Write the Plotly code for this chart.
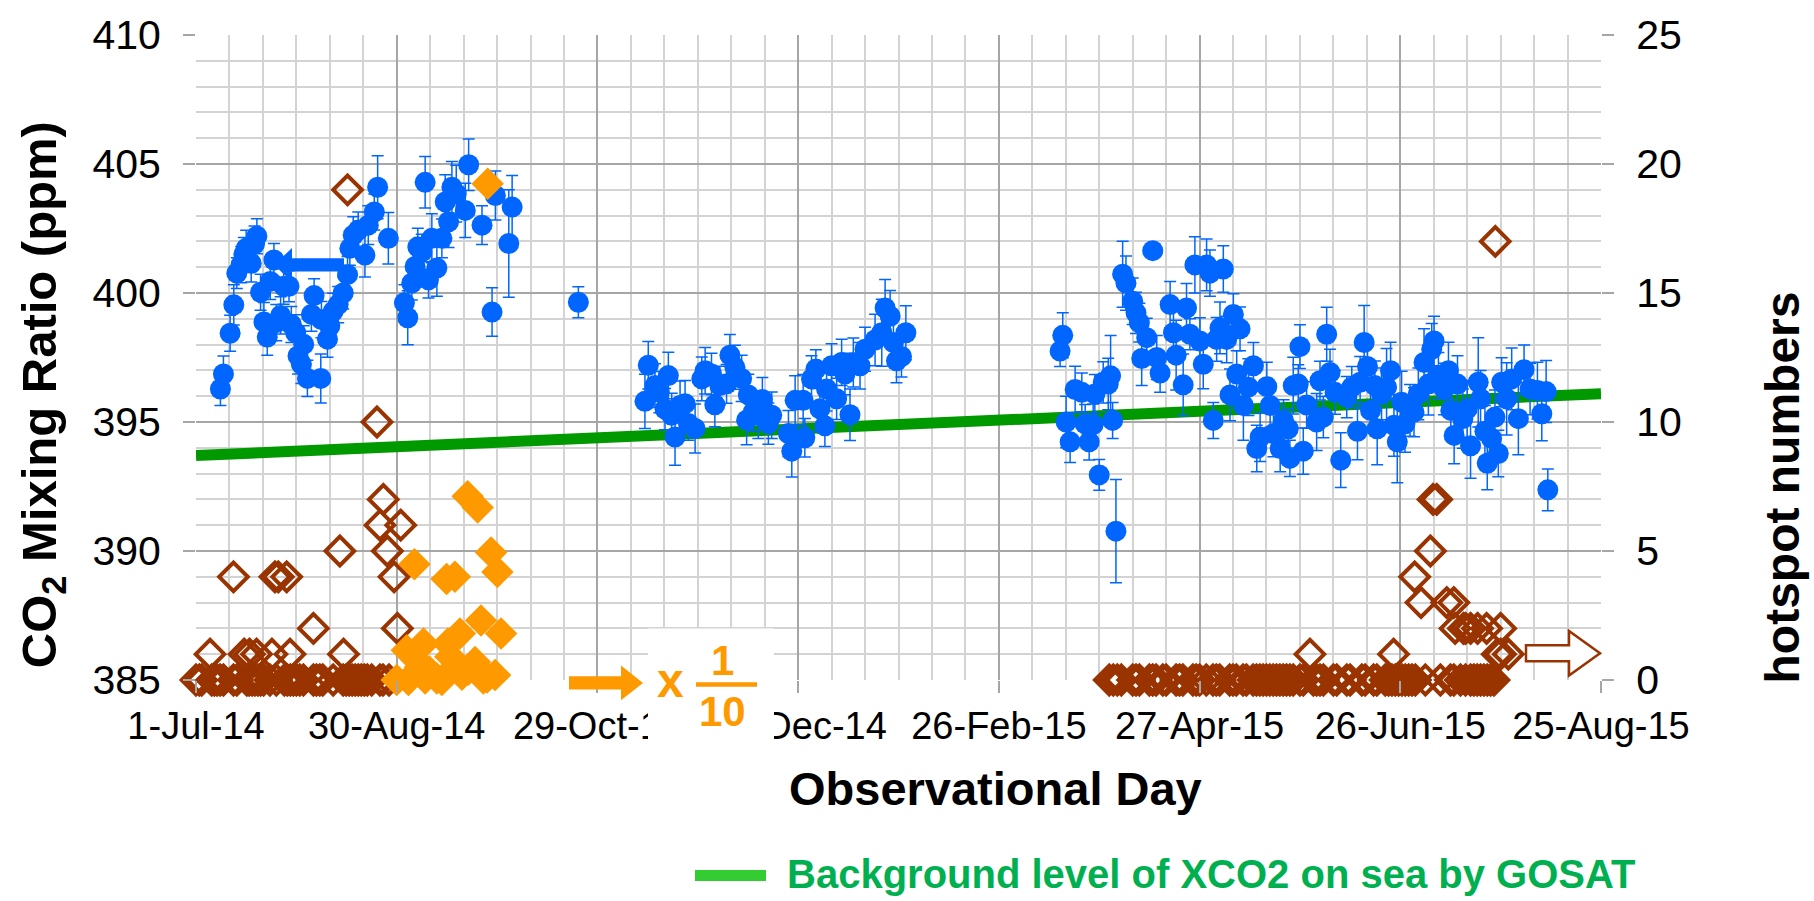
import pandas as pd
import plotly.graph_objects as go

# ---------------- data ----------------
BASE_DATE = "2014-07-01"

# blue CO2 observations: day offset from 1-Jul-14, mixing ratio (ppm), error (ppm)
co2_day = [
    7.3, 8.2, 10.2, 11.3, 12.2, 13.5, 14.3, 15.0, 16.5, 17.5, 18.2, 19.3, 20.3, 21.3, 22.2, 23.3,
    24.0, 25.3, 26.2, 27.8, 28.5, 29.8, 30.5, 31.5, 32.2, 33.3, 34.5, 35.3, 37.3, 37.5, 39.3, 40.0,
    41.0, 42.5, 44.0, 45.3, 46.0, 47.0, 48.5, 50.5, 51.5, 53.3, 54.3, 57.5, 62.3, 63.3, 64.5, 65.5,
    66.3, 67.5, 68.5, 69.5, 70.5, 72.0, 73.5, 74.5, 75.5, 76.5, 77.8, 80.5, 81.5, 85.5, 88.5, 89.5,
    93.5, 94.5, 114.3,
    134.2, 135.2, 137.2, 138.5, 140.2, 141.2, 142.2, 143.2, 144.7, 146.2, 147.2, 149.2, 151.2, 152.2,
    154.1, 155.1, 156.6, 158.6, 159.6, 161.1, 163.1, 164.6, 165.1, 166.6, 168.1, 169.3, 171.1, 172.1,
    177.1, 178.1, 179.1, 181.5, 182.0, 184.0, 185.3, 186.5, 188.0, 188.5, 190.0, 191.5, 193.0, 194.0,
    195.5, 196.5, 198.5, 200.0, 203.0, 205.0, 206.0, 207.5, 208.5, 209.4, 210.9, 212.2,
    258.3, 259.1, 260.1, 261.3, 262.8, 264.8, 265.8, 267.0, 268.2, 268.7, 270.0, 271.2, 272.7, 273.4,
    274.0, 275.0, 277.0, 278.0, 280.0, 281.0, 282.0, 282.7, 284.2, 286.0, 287.2, 288.2, 291.2, 292.2,
    293.0, 295.1, 296.1, 297.1, 298.6, 300.1, 301.1, 302.1, 303.1, 304.1, 305.1, 306.1, 307.1, 308.1,
    309.1, 310.1, 311.1, 312.1, 313.1, 314.6, 316.1, 317.1, 318.1, 320.1, 321.1, 322.1, 324.1, 325.1,
    326.5, 327.0, 328.0, 329.5, 330.0, 331.0, 332.0, 335.0, 336.0, 337.0, 338.0, 339.0, 340.5, 342.2,
    344.0, 345.5, 347.2, 348.0, 349.2, 350.2, 351.1, 352.4, 353.1, 354.4, 355.9, 357.1, 358.1, 359.1,
    360.4, 361.4, 362.9, 364.1, 365.4, 367.1, 368.4, 369.4, 370.1, 371.4, 373.1, 374.4, 375.1, 376.1,
    377.1, 378.7, 380.0, 381.0, 383.3, 384.0, 385.3, 386.0, 387.3, 388.3, 389.3, 390.3, 391.8, 393.3,
    395.3, 397.0, 398.8, 401.0, 402.3, 403.6, 404.1,
]
co2_ppm = [
    396.28, 396.86, 398.44, 399.54, 400.77, 401.10, 401.50, 401.73, 401.15, 401.90, 402.20, 400.03, 398.88, 398.29, 400.45, 401.28,
    398.85, 399.13, 400.26, 400.26, 398.78, 398.46, 397.56, 397.24, 398.01, 396.69, 399.17, 399.90, 396.69, 398.97, 398.21, 398.72,
    399.29, 399.55, 400.00, 400.71, 401.73, 402.24, 402.44, 401.47, 402.63, 403.14, 404.10, 402.12, 399.62, 399.04, 400.38, 401.03,
    401.79, 401.60, 404.29, 400.51, 402.12, 400.97, 402.12, 403.53, 402.76, 404.10, 403.85, 403.20, 404.97, 402.63, 399.26, 403.78,
    401.92, 403.33, 399.64,
    395.80, 397.20, 396.41, 396.16, 395.50, 396.80, 395.26, 394.42, 395.64, 395.71, 394.94, 394.75, 396.67, 396.99,
    396.86, 395.67, 396.41, 396.48, 397.59, 397.12, 396.69, 395.07, 396.05, 395.39, 395.26, 395.87, 394.94, 395.26,
    394.55, 393.87, 395.84, 395.84, 394.39, 396.67, 397.05, 395.51, 394.85, 396.28, 397.18, 395.90, 397.31, 396.86,
    395.28, 397.31, 397.18, 397.82, 398.18, 398.46, 399.42, 399.10, 398.08, 397.37, 397.54, 398.46,
    397.75, 398.36, 395.00, 394.23, 396.26, 396.15, 394.93, 394.23, 394.90, 396.09, 392.95, 396.54, 396.47, 396.79,
    395.06, 390.77, 400.73, 400.38, 399.68, 399.23, 398.85, 397.46, 398.27, 401.64, 397.50, 396.90, 399.55, 398.46,
    397.59, 396.44, 399.42, 398.40, 401.09, 398.14, 397.24, 401.09, 400.77, 395.06, 398.20, 398.65, 400.93, 398.20,
    396.05, 399.17, 396.86, 398.61, 395.64, 396.35, 397.18, 393.97, 394.42, 396.37, 395.64, 394.55, 393.97, 395.06,
    394.74, 393.59, 396.41, 396.47, 397.92, 393.87, 395.66, 395.00, 396.60, 395.19, 398.40, 396.92, 396.15, 393.52,
    395.96, 396.35, 394.64, 396.54, 398.08, 397.15, 395.45, 396.41, 394.74, 396.09, 396.35, 396.99, 394.87, 394.23,
    395.77, 394.93, 395.45, 395.38, 396.09, 397.31, 396.47, 397.82, 398.14, 396.79, 396.28, 396.99, 395.45, 394.48,
    396.47, 395.13, 395.51, 394.08, 396.54, 395.90, 394.64, 393.40, 394.36, 395.19, 393.78, 396.54, 395.90, 396.67,
    395.13, 397.03, 396.28, 396.22, 395.32, 396.18, 392.37,
]
co2_err = [
    0.64, 0.70, 0.70, 0.78, 0.60, 0.70, 0.65, 0.70, 0.72, 0.70, 0.68, 0.70, 0.75, 0.70, 0.70, 0.64,
    0.70, 0.72, 0.70, 0.60, 0.70, 0.70, 0.70, 0.75, 0.72, 0.70, 0.65, 0.65, 0.95, 0.70, 0.70, 0.68,
    0.70, 0.70, 0.62, 0.70, 0.65, 0.72, 0.70, 0.85, 0.75, 0.70, 1.22, 1.00, 0.70, 1.05, 0.65, 0.75,
    0.72, 0.68, 1.00, 0.70, 0.95, 1.10, 0.75, 1.05, 1.00, 1.00, 1.10, 1.05, 1.00, 0.75, 0.94, 0.95,
    2.08, 1.22, 0.60,
    1.05, 0.92, 0.85, 0.80, 0.80, 0.90, 0.85, 1.10, 0.95, 0.90, 0.65, 0.95, 0.85, 0.90,
    0.80, 0.85, 0.75, 0.75, 0.80, 0.85, 0.90, 0.95, 0.80, 0.75, 0.90, 0.85, 0.80, 0.90,
    0.90, 1.00, 0.95, 1.00, 0.75, 0.90, 0.75, 0.85, 0.80, 0.85, 0.85, 0.80, 0.90, 0.80,
    1.00, 0.95, 0.90, 0.85, 1.00, 1.30, 1.10, 1.00, 0.90, 0.85, 0.80, 1.05,
    0.60, 0.87, 1.00, 0.80, 0.90, 0.75, 0.75, 0.70, 0.80, 0.75, 0.60, 0.80, 1.00, 1.56,
    0.70, 2.00, 1.28, 1.05, 0.90, 0.80, 0.75, 1.05, 0.75, 0.20, 0.85, 0.75, 0.90, 0.95,
    1.35, 1.20, 0.95, 0.60, 1.09, 0.90, 0.95, 1.00, 0.90, 0.70, 0.85, 1.00, 0.90, 0.90,
    1.00, 0.80, 0.90, 0.85, 1.35, 1.10, 0.90, 0.90, 0.95, 0.95, 0.85, 0.90, 0.90, 0.80,
    0.75, 0.70, 1.10, 0.75, 0.85, 0.90, 0.90, 1.10, 0.75, 0.80, 1.05, 0.90, 0.85, 1.06,
    0.80, 0.80, 1.10, 1.00, 1.44, 0.90, 0.85, 0.95, 1.40, 1.00, 1.50, 1.10, 1.20, 1.58,
    1.20, 1.10, 1.00, 0.95, 1.00, 1.30, 1.20, 1.00, 0.96, 0.90, 1.00, 1.10, 1.10, 1.10,
    1.10, 1.15, 1.10, 1.26, 1.73, 1.10, 1.00, 1.03, 1.00, 1.05, 0.90, 0.95, 1.40, 1.20,
    1.40, 0.95, 1.00, 1.10, 1.05, 1.20, 0.81,
]

# background level of XCO2 on sea by GOSAT
bg_day = [0, 420]
bg_ppm = [393.7, 396.1]

# hotspot numbers (right axis), brown open diamonds
hot_day = [
    0, 1.0, 1.7, 4.7, 5.5, 6.3, 7.2, 8.2, 11.2, 12.2, 15.2, 15.9, 16.8, 17.6, 18.5, 19.3, 20.2, 22.1,
    24.0, 26.4, 27.3, 28.2, 29.1, 30.0, 31.0, 32.1, 35.1, 36.0, 37.0, 37.9, 41.0, 44.0, 44.9, 45.8,
    46.7, 47.6, 48.5, 49.4, 50.3, 51.2, 52.5, 55.0, 55.9, 57.7,
    4.2, 11.2, 14.4, 16.0, 18.1, 22.7, 23.6, 24.6, 27.1, 28.1, 35.1, 43.0, 44.1, 45.3, 54.1, 55.0,
    56.0, 57.2, 59.2, 60.2, 61.2,
    273, 274.2, 275.4, 276.6, 280, 281, 282, 285, 286, 287, 289, 290, 293, 294, 295, 298, 299, 300,
    302, 304, 305, 306, 309, 310, 311, 313, 314, 316, 317, 318, 319, 320, 321, 322, 323, 324, 325,
    326, 327, 328, 330, 331, 334, 335, 336, 337, 340, 341, 344, 345, 348.5, 349.5, 352, 353, 355.5,
    356.5, 357.5, 358.5, 359.5, 360.5, 361.5, 362.5, 363.5, 364.5, 367.5, 372, 375, 376, 378, 379.5,
    381, 382, 383, 384, 385, 386, 387, 388, 389, 390, 392.3,
    333.0, 358.0, 364.3, 366.2, 378.9, 369.0, 370.9, 369.8, 376.0, 373.9, 381.0, 383.1, 390.0, 376.4,
    379.5, 385.8, 388.4, 391.5, 394.7, 372.1,
]
hot_num = [
    0, 0, 0, 0, 0, 0, 0, 0, 0, 0, 0, 0, 0, 0, 0, 0, 0, 0,
    0, 0, 0, 0, 0, 0, 0, 0, 0, 0, 0, 0, 0, 0, 0, 0,
    0, 0, 0, 0, 0, 0, 0, 0, 0, 0,
    1, 4, 1, 1, 1, 1, 4, 4, 4, 1, 2, 5, 1, 19, 10, 6,
    7, 5, 4, 2, 6,
    0, 0, 0, 0, 0, 0, 0, 0, 0, 0, 0, 0, 0, 0, 0, 0, 0, 0,
    0, 0, 0, 0, 0, 0, 0, 0, 0, 0, 0, 0, 0, 0, 0, 0, 0,
    0, 0, 0, 0, 0, 0, 0, 0, 0, 0, 0, 0, 0, 0, 0, 0, 0,
    0, 0, 0, 0, 0, 0, 0, 0, 0, 0, 0, 0, 0, 0, 0,
    0, 0, 0, 0, 0, 0, 0, 0, 0, 0, 0,
    1, 1, 1, 1, 1, 4, 3, 2, 5, 7, 7, 3, 3, 2,
    2, 2, 2, 2, 2, 17,
]

# hotspot numbers x 1/10 (right axis), orange filled diamonds
hot10_day = [60.0, 63.0, 63.5, 65.3, 66.0, 67.0, 68.0, 68.5, 70.0, 72.0, 73.5, 74.9, 75.3, 76.0,
             77.4, 78.9, 79.5, 81.2, 81.4, 83.4, 84.2, 85.2, 85.9, 87.0, 87.2, 88.2, 89.4, 90.1, 91.2]
hot10_num = [0.0, 1.15, 0.0, 4.49, 0.77, 0.5, 1.41, 0.06, 0.3, 0.06, 0.0, 3.91, 1.41, 0.9,
             4.0, 1.8, 0.2, 7.12, 0.4, 0.7, 6.69, 2.31, 0.06, 0.1, 19.23, 4.94, 0.19, 4.19, 1.8]

# axis ticks
x_tick_dates = ["2014-07-01", "2014-08-30", "2014-10-29", "2014-12-28",
                "2015-02-26", "2015-04-27", "2015-06-26", "2015-08-25"]
x_tick_labels = ["1-Jul-14", "30-Aug-14", "29-Oct-14", "28-Dec-14",
                 "26-Feb-15", "27-Apr-15", "26-Jun-15", "25-Aug-15"]
left_ticks = [385, 390, 395, 400, 405, 410]
right_ticks = [0, 5, 10, 15, 20, 25]

# ---------------- helpers ----------------
base = pd.Timestamp(BASE_DATE)


def to_dates(days):
    return list(base + pd.to_timedelta(days, unit="D"))


W, H = 1814, 901
L, R, T, B = 196, 1601, 30, 680  # plot area in pixels


def pxx(x):
    return (x - L) / (R - L)


def pxy(y):
    return (B - y) / (B - T)


def arrow_path(x_tail, x_tip, yc, shaft_half, head_half, head_len):
    s = 1 if x_tip > x_tail else -1
    xb = x_tip - s * head_len
    pts = [(x_tail, yc - shaft_half), (xb, yc - shaft_half), (xb, yc - head_half), (x_tip, yc),
           (xb, yc + head_half), (xb, yc + shaft_half), (x_tail, yc + shaft_half)]
    return "M " + " L ".join(f"{pxx(a):.5f},{pxy(b):.5f}" for a, b in pts) + " Z"


FONT = "Arial, 'Liberation Sans', sans-serif"
BLUE = "#0066FF"
BROWN = "#993300"
ORANGE = "#FF9900"

# ---------------- figure ----------------
fig = go.Figure()

fig.add_trace(go.Scatter(
    x=to_dates(bg_day), y=bg_ppm, mode="lines",
    line=dict(color="#009900", width=11), yaxis="y", showlegend=False,
    name="Background level of XCO2 on sea by GOSAT"))

fig.add_trace(go.Scatter(
    x=to_dates(co2_day), y=co2_ppm, mode="markers", yaxis="y", showlegend=False,
    marker=dict(color=BLUE, size=21, line=dict(width=0)),
    error_y=dict(type="data", array=co2_err, visible=True, color=BLUE, thickness=1.5, width=6),
    name="CO2"))

fig.add_trace(go.Scatter(
    x=to_dates(hot_day), y=hot_num, mode="markers", yaxis="y2", showlegend=False,
    cliponaxis=False,
    marker=dict(symbol="diamond-open", color=BROWN, size=22, line=dict(color=BROWN, width=4)),
    name="hotspot"))

fig.add_trace(go.Scatter(
    x=to_dates(hot10_day), y=hot10_num, mode="markers", yaxis="y2", showlegend=False,
    cliponaxis=False,
    marker=dict(symbol="diamond", color=ORANGE, size=25, line=dict(width=0)),
    name="hotspot x 1/10"))

MAJOR = "#A6A6A6"
MINOR = "#D3D3D3"

fig.update_layout(
    width=W, height=H,
    margin=dict(l=L, r=W - R, t=T, b=H - B),
    paper_bgcolor="white", plot_bgcolor="white",
    font=dict(family=FONT, color="black"),
    showlegend=False,
    xaxis=dict(
        type="date",
        range=[to_dates([0])[0], to_dates([420])[0]],
        tickmode="array", tickvals=x_tick_dates, ticktext=x_tick_labels,
        tickfont=dict(size=38, family=FONT),
        showgrid=True, gridcolor=MAJOR, gridwidth=2,
        ticks="outside", ticklen=12, tickcolor=MAJOR, tickwidth=2,
        minor=dict(dtick=10 * 86400000, tick0=BASE_DATE, showgrid=True,
                   gridcolor=MINOR, gridwidth=2, ticks=""),
        zeroline=False, showline=False,
    ),
    yaxis=dict(
        range=[385, 410], tickmode="array", tickvals=left_ticks,
        tickfont=dict(size=41, family=FONT),
        showgrid=True, gridcolor=MAJOR, gridwidth=2,
        ticks="outside", ticklen=12, tickcolor=MAJOR, tickwidth=2,
        ticklabelstandoff=14,
        minor=dict(dtick=1, showgrid=True, gridcolor=MINOR, gridwidth=2, ticks=""),
        zeroline=False, showline=False,
    ),
    yaxis2=dict(
        range=[0, 25], overlaying="y", side="right", tickmode="array", tickvals=right_ticks,
        tickfont=dict(size=41, family=FONT),
        showgrid=False, ticks="outside", ticklen=12, tickcolor=MAJOR, tickwidth=2,
        ticklabelstandoff=14,
        zeroline=False, showline=False,
    ),
)

shapes = [
    # blue arrow -> left axis
    dict(type="path", xref="paper", yref="paper", layer="above",
         path=arrow_path(344, 274, 261.7, 6.7, 17, 18), fillcolor=BLUE, line=dict(width=0)),
    # brown outlined arrow -> right axis
    dict(type="path", xref="paper", yref="paper", layer="above",
         path=arrow_path(1526, 1600, 653, 8, 22.5, 31), fillcolor="white",
         line=dict(color=BROWN, width=2.5)),
    # white box behind "x 1/10"
    dict(type="rect", xref="paper", yref="paper", layer="above",
         x0=pxx(648), x1=pxx(774), y0=pxy(628), y1=pxy(746),
         fillcolor="white", line=dict(width=0)),
    # orange arrow
    dict(type="path", xref="paper", yref="paper", layer="above",
         path=arrow_path(569, 643, 683, 6.7, 17.5, 22), fillcolor=ORANGE, line=dict(width=0)),
    # fraction bar
    dict(type="line", xref="paper", yref="paper", layer="above",
         x0=pxx(696), x1=pxx(757), y0=pxy(684.5), y1=pxy(684.5),
         line=dict(color=ORANGE, width=4.5)),
    # legend sample line
    dict(type="line", xref="paper", yref="paper", layer="above",
         x0=pxx(695), x1=pxx(766), y0=pxy(877), y1=pxy(877),
         line=dict(color="#33CC33", width=11)),
]
fig.update_layout(shapes=shapes)

annotations = [
    dict(text="x", x=pxx(670.5), y=pxy(681), xref="paper", yref="paper", showarrow=False,
         xanchor="center", yanchor="middle", font=dict(size=48, color=ORANGE, family=FONT, weight="bold")),
    dict(text="1", x=pxx(722), y=pxy(660), xref="paper", yref="paper", showarrow=False,
         xanchor="center", yanchor="middle", font=dict(size=42, color=ORANGE, family=FONT, weight="bold")),
    dict(text="10", x=pxx(722), y=pxy(712), xref="paper", yref="paper", showarrow=False,
         xanchor="center", yanchor="middle", font=dict(size=42, color=ORANGE, family=FONT, weight="bold")),
    dict(text="Observational Day", x=pxx(995), y=pxy(789), xref="paper", yref="paper",
         showarrow=False, xanchor="center", yanchor="middle",
         font=dict(size=47, color="black", family=FONT, weight="bold")),
    dict(text="CO<sub>2</sub> Mixing Ratio (ppm)", x=pxx(42), y=pxy(393), xref="paper", yref="paper",
         showarrow=False, xanchor="center", yanchor="middle", textangle=-90,
         font=dict(size=49, color="black", family=FONT, weight="bold")),
    dict(text="hotspot numbers", x=pxx(1782), y=pxy(486), xref="paper", yref="paper",
         showarrow=False, xanchor="center", yanchor="middle", textangle=-90,
         font=dict(size=48, color="black", family=FONT, weight="bold")),
    dict(text="Background level of XCO2 on sea by GOSAT", x=pxx(785), y=pxy(876),
         xref="paper", yref="paper", showarrow=False, xanchor="left", yanchor="middle",
         font=dict(size=40, color="#00B050", family=FONT, weight="bold")),
]
fig.update_layout(annotations=annotations)

fig.write_html(
    "out.html",
    config={"displayModeBar": False},
    post_script="document.body.style.margin='0';document.body.style.overflow='hidden';",
)
